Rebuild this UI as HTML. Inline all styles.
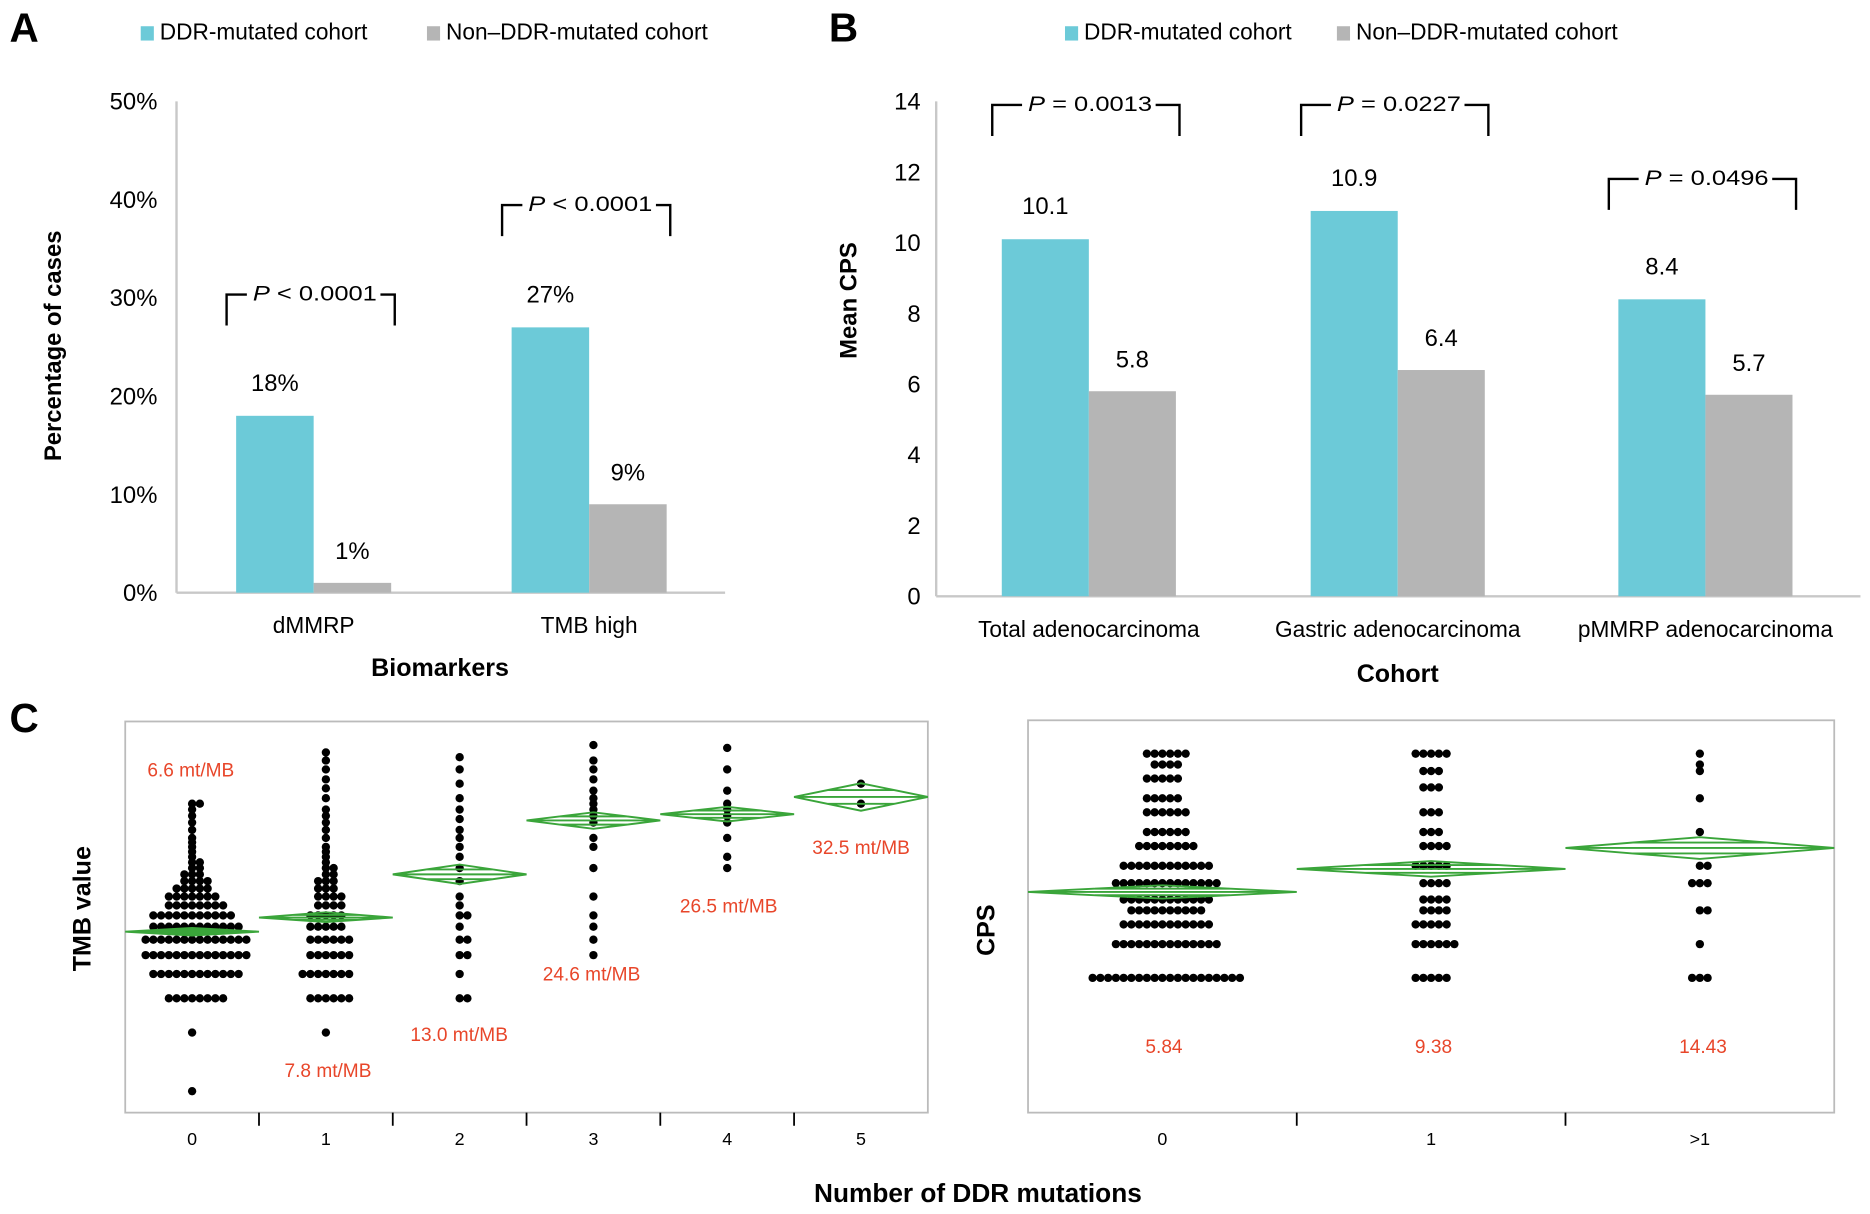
<!DOCTYPE html>
<html><head><meta charset="utf-8"><style>
html,body{margin:0;padding:0;background:#fff;}
svg{display:block;}
text{font-family:"Liberation Sans",sans-serif;}
</style></head><body>
<svg id="fig" width="1870" height="1214" viewBox="0 0 1568 1018" preserveAspectRatio="none" xmlns="http://www.w3.org/2000/svg">
<g id="gA"></g>
<g id="gB"></g>
<g id="gC1"></g>
<g id="gC2"></g>
</svg>
<script>
// Panel A data
const aCategories = ["dMMRP","TMB high"];
const aDDR = [18, 27];
const aNon = [1, 9];
const aTicks = [0,10,20,30,40,50];
const aPvals = ["< 0.0001","< 0.0001"];
// Panel B data
const bCategories = ["Total adenocarcinoma","Gastric adenocarcinoma","pMMRP adenocarcinoma"];
const bDDR = [10.1, 10.9, 8.4];
const bNon = [5.8, 6.4, 5.7];
const bTicks = [0,2,4,6,8,10,12,14];
const bPvals = ["= 0.0013","= 0.0227","= 0.0496"];
// Panel C left (TMB)
const tmbGroups = ["0","1","2","3","4","5"];
const tmbMeans = [6.6, 7.8, 13.0, 24.6, 26.5, 32.5];
const tmbLow = [6.3, 7.4, 11.6, 22.3, 24.3, 27.6];
const tmbHigh = [6.9, 8.3, 14.6, 27.1, 28.9, 38.2];
const tmbG0 = [1,2,3,3,3,3,3,3,3,3,4,4,4,4,4,4,4,4,4,4,4,4,5,5,5,5,5,5,5,5,5,5,5,5,5,5,6,6,6,6,6,6,6,6,6,6,6,6,6,6,7,7,7,7,7,7,7,7,7,7,7,7,8,8,8,8,8,8,8,8,8,8,8,9,9,9,9,9,9,9,9,10,10,10,10,10,10,10,11,11,11,11,11,12,12,12,12,13,13,13,14,14,15,15,16,17,18,19,20,22,24,26,28,30,30];
const tmbG1 = [2,3,3,3,3,3,3,4,4,4,4,4,4,4,5,5,5,5,5,5,6,6,6,6,6,6,7,7,7,7,7,8,8,8,8,8,9,9,9,9,10,10,10,10,11,11,11,12,12,12,13,13,14,14,15,16,17,18,20,22,24,26,28,32,36,40,45,50,55];
const tmbG2 = [3,3,4,5,5,6,6,7,8,8,9,10,12,14,16,18,20,22,25,28,32,38,45,52];
const tmbG3 = [5,6,7,8,10,14,18,20,24,26,28,30,32,35,40,45,50,60];
const tmbG4 = [14,16,20,24,26,28,30,35,45,58];
const tmbG5 = [30,38];
// Panel C right (CPS)
const cpsGroups = ["0","1",">1"];
const cpsMeans = [5.84, 9.38, 14.43];
const cpsLow = [5.1, 8.0, 11.5];
const cpsHigh = [6.7, 11.0, 18.0];
const cpsG0 = [1,1,1,1,1,1,1,1,1,1,1,1,1,1,1,1,1,1,1,1,2,2,2,2,2,2,2,2,2,2,2,2,2,2,3,3,3,3,3,3,3,3,3,3,3,3,4,4,4,4,4,4,4,4,4,4,5,5,5,5,5,5,5,5,5,5,5,5,7,7,7,7,7,7,7,7,7,7,7,7,7,7,10,10,10,10,10,10,10,10,10,10,10,10,15,15,15,15,15,15,15,15,20,20,20,20,20,20,30,30,30,30,30,30,40,40,40,40,40,60,60,60,60,60,80,80,80,80,100,100,100,100,100,100];
const cpsG1 = [1,1,1,1,1,2,2,2,2,2,2,3,3,3,3,3,4,4,4,4,5,5,5,5,7,7,7,7,10,10,10,10,10,15,15,15,15,20,20,20,30,30,30,50,50,50,70,70,70,100,100,100,100,100];
const cpsG2 = [1,1,1,2,4,4,7,7,7,10,10,20,40,70,80,100];

const NS="http://www.w3.org/2000/svg";
function mk(parent, tag, attrs, txt){const e=document.createElementNS(NS,tag);for(const k in attrs)e.setAttribute(k,attrs[k]);if(txt!==undefined)e.textContent=txt;parent.appendChild(e);return e;}
const BLUE="#6ccad8", GRAY="#b5b5b5", AX="#c8c8c8";

function barPanel(g, cfg){
  const y = v => cfg.y0 - (v - cfg.ticks[0])/(cfg.ticks[cfg.ticks.length-1]-cfg.ticks[0])*(cfg.y0-cfg.yTop);
  let t=mk(g,"text",{x:cfg.letterX,y:35,"font-size":34,"font-weight":"bold"},cfg.letter);
  
  
  cfg.legend.forEach((L,i)=>{
    let r=mk(g,"rect",{x:L.x,y:22,width:11,height:12,fill:L.c});
    
    
    let tt=mk(g,"text",{x:L.x+16,y:33,"font-size":19},L.t);
    
    
  });
  let ya=mk(g,"line",{x1:cfg.x0,y1:cfg.yTop,x2:cfg.x0,y2:cfg.y0,stroke:AX,"stroke-width":2});
  
  
  let xa=mk(g,"line",{x1:cfg.x0,y1:cfg.y0,x2:cfg.xEnd,y2:cfg.y0,stroke:AX,"stroke-width":2});
  
  
  cfg.ticks.forEach(v=>{
    let tk=mk(g,"text",{x:cfg.tickX,y:y(v)+7,"font-size":20,"text-anchor":"end"},v+cfg.suffix);
    
    
  });
  let yt=mk(g,"text",{x:0,y:0,"font-size":20,"font-weight":"bold","text-anchor":"middle",transform:`translate(${cfg.yTitleX},${cfg.yTitleY}) rotate(-90)`},cfg.yTitle);
  
  
  let xt=mk(g,"text",{x:cfg.xTitleX,y:cfg.xTitleY,"font-size":21,"font-weight":"bold","text-anchor":"middle"},cfg.xTitle);
  
  
  cfg.cats.forEach((c,i)=>{
    const cx=cfg.catX[i], bw=cfg.bw;
    const v1=cfg.s1[i], v2=cfg.s2[i];
    let b1=mk(g,"rect",{x:cx-bw,y:y(v1),width:bw,height:cfg.y0-y(v1),fill:BLUE});
    
    
    let b2=mk(g,"rect",{x:cx,y:y(v2),width:bw,height:cfg.y0-y(v2),fill:GRAY});
    
    
    let l1=mk(g,"text",{x:cx-bw/2,y:y(v1)-21,"font-size":20,"text-anchor":"middle"},v1+cfg.suffix);
    
    
    let l2=mk(g,"text",{x:cx+bw/2,y:y(v2)-20,"font-size":20,"text-anchor":"middle"},v2+cfg.suffix);
    
    
    let cl=mk(g,"text",{x:cx,y:cfg.y0+34,"font-size":19,"text-anchor":"middle"},c);
    
    
    const top=Math.min(y(v1)-70, cfg.bracketMax[i]);
    const L=cx-bw-8, R=cx+bw+3;
    const tw=cfg.pw;
    let br=mk(g,"path",{d:`M${L},${top+26} V${top} H${cx-tw/2} M${cx+tw/2},${top} H${R} V${top+26}`,fill:"none",stroke:"#000","stroke-width":2});
    
    
    let pt=mk(g,"text",{x:cx+1,y:top+5,"font-size":18,"text-anchor":"middle","textLength":tw-8,"lengthAdjust":"spacingAndGlyphs"});
    
    
    mk(pt,"tspan",{"font-style":"italic"},"P");
    mk(pt,"tspan",{},"\u00a0"+cfg.pv[i]);
  });
}
barPanel(document.getElementById("gA"),{letter:"A",letterX:8,legend:[{x:118,c:BLUE,t:"DDR-mutated cohort"},{x:358,c:GRAY,t:"Non\u2013DDR-mutated cohort"}],
  x0:148,xEnd:608,y0:497,yTop:85,ticks:aTicks,suffix:"%",tickX:132,yTitle:"Percentage of cases",yTitleX:51,yTitleY:290,
  xTitle:"Biomarkers",xTitleX:369,xTitleY:567,cats:aCategories,catX:[263,494],bw:65,s1:aDDR,s2:aNon,pv:aPvals,bracketMax:[247,172],pw:112});
barPanel(document.getElementById("gB"),{letter:"B",letterX:695,legend:[{x:893,c:BLUE,t:"DDR-mutated cohort"},{x:1121,c:GRAY,t:"Non\u2013DDR-mutated cohort"}],
  x0:785,xEnd:1560,y0:500,yTop:85,ticks:bTicks,suffix:"",tickX:772,yTitle:"Mean CPS",yTitleX:718,yTitleY:252,
  xTitle:"Cohort",xTitleX:1172,xTitleY:572,cats:bCategories,catX:[913,1172,1430],bw:73,s1:bDDR,s2:bNon,pv:bPvals,bracketMax:[88,88,150],pw:112});

function dotPanel(g, cfg){
  const y = v => cfg.yBase - cfg.perDec*Math.log10(v);
  let box=mk(g,"rect",{x:cfg.x0,y:cfg.y0,width:cfg.x1-cfg.x0,height:cfg.y1-cfg.y0,fill:"none",stroke:"#bbb","stroke-width":1.5});
  
  
  const n=cfg.groups.length, w=(cfg.x1-cfg.x0)/n;
  cfg.groups.forEach((lab,i)=>{
    const cx=cfg.x0+w*(i+0.5);
    if(i>0){let s=mk(g,"line",{x1:cfg.x0+w*i,y1:cfg.y1,x2:cfg.x0+w*i,y2:cfg.y1+11,stroke:"#000","stroke-width":1.5});
      
      }
    let tl=mk(g,"text",{x:cx,y:cfg.y1+27,"font-size":15,"text-anchor":"middle"},lab);
    
    
    const counts={};
    cfg.data[i].forEach(v=>{
      const k=counts[v]||0; counts[v]=k+1;
      const off=(k%2?1:-1)*Math.ceil(k/2)*6.5;
      let d=mk(g,"circle",{cx:cx+off,cy:y(v),r:3.5,fill:"#000"});
      
      
    });
    const my=y(cfg.means[i]), ly=y(cfg.low[i]), hy=y(cfg.high[i]);
    const L=cfg.x0+w*i, R=L+w;
    let dm=mk(g,"path",{d:`M${L},${my} L${cx},${hy} L${R},${my} L${cx},${ly} Z M${L},${my} H${R} M${L+w*0.25},${(my+hy)/2} H${R-w*0.25} M${L+w*0.25},${(my+ly)/2} H${R-w*0.25}`,fill:"none",stroke:"#3aa53a","stroke-width":1.6});
    
    
    const lp=cfg.labelPos[i];
    let ml=mk(g,"text",{x:lp[0],y:lp[1],"font-size":16,fill:"#e8462a","text-anchor":"middle"},cfg.fmt(cfg.means[i]));
    
    
  });
  let yt=mk(g,"text",{x:0,y:0,"font-size":21,"font-weight":"bold","text-anchor":"middle",transform:`translate(${cfg.yTitleX},${cfg.yTitleY}) rotate(-90)`},cfg.yTitle);
  
  
}
const gC1=document.getElementById("gC1");
let cl=mk(gC1,"text",{x:8,y:614,"font-size":34,"font-weight":"bold"},"C");


dotPanel(gC1,{x0:105,x1:778,y0:605,y1:933,groups:tmbGroups,data:[tmbG0,tmbG1,tmbG2,tmbG3,tmbG4,tmbG5],
  means:tmbMeans,low:tmbLow,high:tmbHigh,yBase:915,perDec:163.2,yTitle:"TMB value",yTitleX:76,yTitleY:762,
  labelPos:[[160,651],[275,903],[385,873],[496,822],[611,765],[722,716]],fmt:v=>v.toFixed(1)+" mt/MB"});
dotPanel(document.getElementById("gC2"),{x0:862,x1:1538,y0:604,y1:933,groups:cpsGroups,data:[cpsG0,cpsG1,cpsG2],
  means:cpsMeans,low:cpsLow,high:cpsHigh,yBase:820,perDec:94,yTitle:"CPS",yTitleX:834,yTitleY:780,
  labelPos:[[976,883],[1202,883],[1428,883]],fmt:v=>v.toFixed(2)});
let xt=mk(document.getElementById("gC2"),"text",{x:820,y:1008,"font-size":22,"font-weight":"bold","text-anchor":"middle"},"Number of DDR mutations");


</script>
</body></html>
